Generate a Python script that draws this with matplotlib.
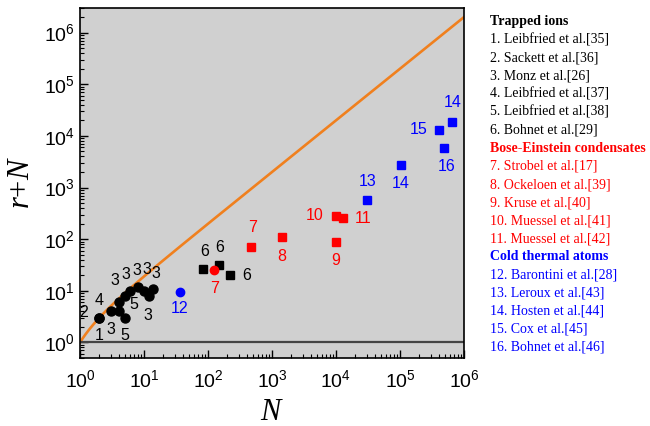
import numpy as np
import matplotlib
matplotlib.use('Agg')
import matplotlib.pyplot as plt

plt.rcParams['font.family'] = ['Liberation Sans', 'DejaVu Sans']
plt.rcParams['mathtext.default'] = 'regular'
plt.rcParams['mathtext.fontset'] = 'custom'
plt.rcParams['mathtext.it'] = 'Liberation Serif:italic'
plt.rcParams['mathtext.rm'] = 'Liberation Serif'

# trapped ions (black circles)
ion_N = [2, 2, 3, 4, 4, 5, 5, 6, 8, 10, 12, 14]
ion_y = [3, 3, 4, 4, 6, 3, 8, 10, 12, 10, 8, 11]
ion_lab = ['1', '2', '3', '5', '4', '5', '3', '3', '3', '3', '3', '3']
ion_off = [(0, -13), (-11, 4), (0, -13), (11, 5), (-14, 1), (0, -13),
           (-7, 11), (-3, 12), (-1, 12), (2, 15), (-1, -14), (2, 11)]

# Bohnet et al. (black squares)
boh_N = [85, 150, 222]
boh_y = [27, 31, 20]
boh_lab = ['6', '6', '6']
boh_off = [(1, 12), (0, 13), (12, 0)]

# Bose-Einstein condensates (red)
bec_circ_N = [126]
bec_circ_y = [25]
bec_sq_N = [470, 1430, 1.0e4, 9900, 12700]
bec_sq_y = [70, 108, 90, 287, 255]
bec_sq_lab = ['7', '8', '9', '10', '11']
bec_sq_off = [(1, 14), (0, -14), (0, -14), (-15, 0), (15, 0)]

# cold thermal atoms (blue)
cold_circ_N = [36]
cold_circ_y = [9.4]
cold_sq_N = [3.07e4, 1.02e5, 4.1e5, 6.6e5, 4.9e5]
cold_sq_y = [575, 2730, 1.33e4, 1.85e4, 5800]
cold_sq_lab = ['13', '14', '15', '14', '16']
cold_sq_off = [(0, 13), (0, -13), (-15, 0), (0, 14), (2, -13)]

legend_groups = [
    ('Trapped ions', 'black', ['1. Leibfried et al.[35]', '2. Sackett et al.[36]',
                                '3. Monz et al.[26]', '4. Leibfried et al.[37]',
                                '5. Leibfried et al.[38]', '6. Bohnet et al.[29]']),
    ('Bose-Einstein condensates', 'red', ['7. Strobel et al.[17]', '8. Ockeloen et al.[39]',
                                          '9. Kruse et al.[40]', '10. Muessel et al.[41]',
                                          '11. Muessel et al.[42]']),
    ('Cold thermal atoms', 'blue', ['12. Barontini et al.[28]', '13. Leroux et al.[43]',
                                    '14. Hosten et al.[44]', '15. Cox et al.[45]',
                                    '16. Bohnet et al.[46]']),
]

fig = plt.figure(figsize=(6.5, 4.26), dpi=100)
ax = fig.add_axes([0.1231, 0.1596, 0.5907, 0.8216])
ax.set_facecolor('#d0d0d0')

N_line = np.logspace(0, 6, 400)
ax.plot(N_line, 2 * N_line - 1, color='#f0801e', lw=1.9, zorder=2)
ax.axhline(1, color='#444444', lw=1.6, zorder=2)


def labels(xs, ys, labs, offs, color):
    for x, y, s, (dx, dy) in zip(xs, ys, labs, offs):
        ax.annotate(s, (x, y), xytext=(dx, dy), textcoords='offset points',
                    ha='center', va='center', fontsize=11.5, color=color, zorder=4)


ax.plot(ion_N, ion_y, 'o', color='black', ms=6.5, zorder=3)
labels(ion_N, ion_y, ion_lab, ion_off, 'black')
ax.plot(boh_N, boh_y, 's', color='black', ms=5.5, zorder=3)
labels(boh_N, boh_y, boh_lab, boh_off, 'black')

ax.plot(bec_circ_N, bec_circ_y, 'o', color='red', ms=6, zorder=3)
labels(bec_circ_N, bec_circ_y, ['7'], [(0, -13)], 'red')
ax.plot(bec_sq_N, bec_sq_y, 's', color='red', ms=5.5, zorder=3)
labels(bec_sq_N, bec_sq_y, bec_sq_lab, bec_sq_off, 'red')

ax.plot(cold_circ_N, cold_circ_y, 'o', color='blue', ms=6, zorder=3)
labels(cold_circ_N, cold_circ_y, ['12'], [(0, -12)], 'blue')
ax.plot(cold_sq_N, cold_sq_y, 's', color='blue', ms=5.5, zorder=3)
labels(cold_sq_N, cold_sq_y, cold_sq_lab, cold_sq_off, 'blue')

ax.set_xscale('log')
ax.set_yscale('log')
ax.set_xlim(1, 1e6)
ax.set_ylim(0.5, 3e6)
ax.set_xticks([10.0 ** k for k in range(7)])
ax.set_yticks([10.0 ** k for k in range(7)])
ax.tick_params(which='both', direction='in', top=False, right=False, labelsize=14)
ax.tick_params(which='major', length=6, width=1)
ax.tick_params(which='minor', length=3, width=0.8)
ax.tick_params(axis='x', pad=8)
for sp in ax.spines.values():
    sp.set_linewidth(1.2)

ax.set_xlabel(r'$\mathit{N}$', fontsize=22, labelpad=4)
ax.set_ylabel(r'$\mathit{r}\mathrm{+}\mathit{N}$', fontsize=22, labelpad=6)

y = 1 - 21.7 / 426
step = 18.1 / 426
for head, col, items in legend_groups:
    fig.text(490 / 650, y, head, color=col, fontsize=10, fontweight='bold',
             family='Liberation Serif', va='center')
    y -= step
    for it in items:
        fig.text(490 / 650, y, it, color=col, fontsize=10,
                 family='Liberation Serif', va='center')
        y -= step

fig.savefig('out.png', dpi=100)
